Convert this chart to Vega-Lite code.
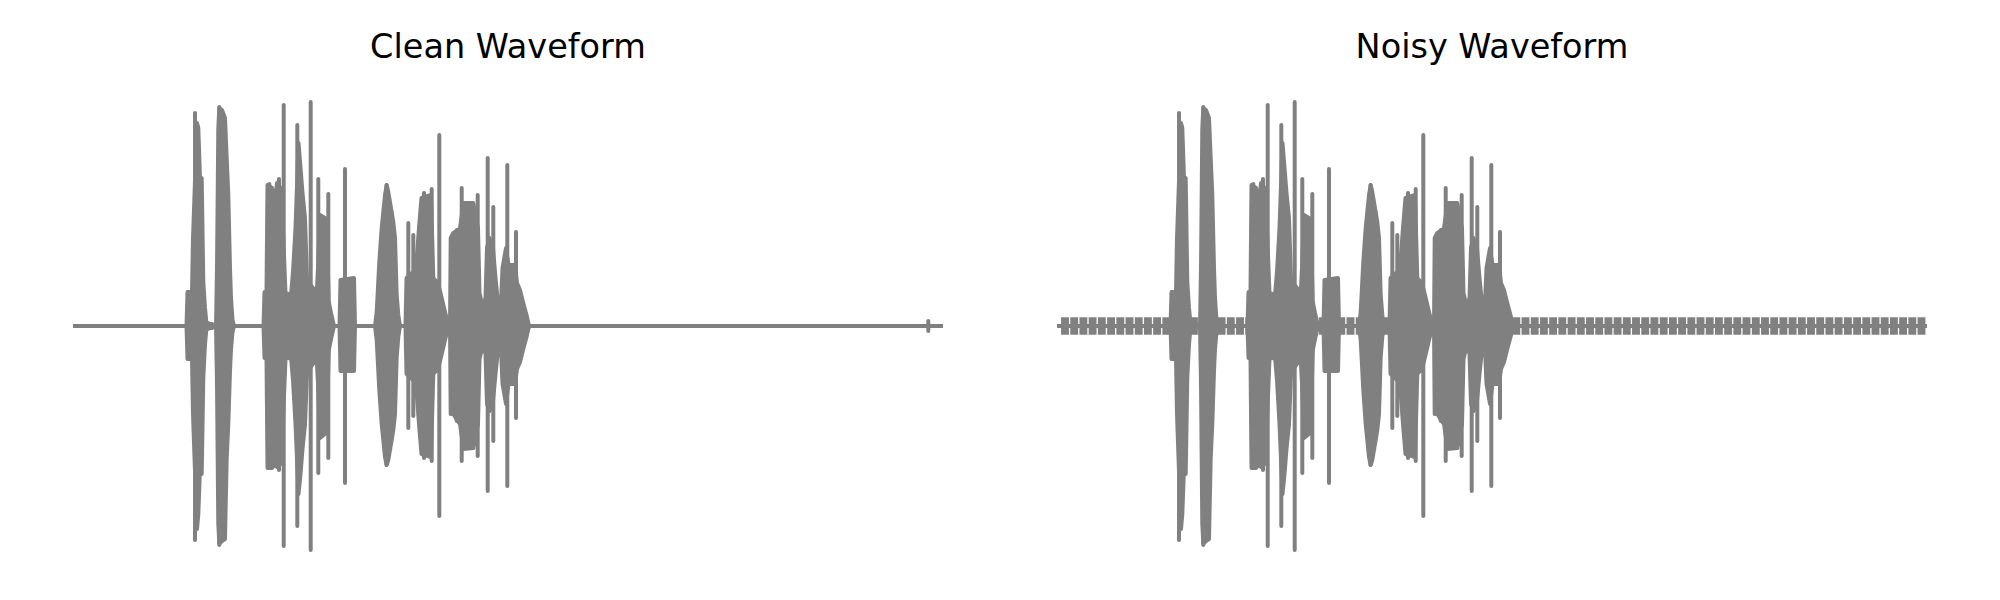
{
  "$schema": "https://vega.github.io/schema/vega-lite/v6.json",
  "background": "white",
  "padding": {"left": 71, "top": 30, "right": 0, "bottom": 0},
  "spacing": 110,
  "config": {"view": {"stroke": null}},
  "datasets": {
    "base": [{"t0": 0, "t1": 8.7, "v": 0}],
    "env": [
      {"t": 1.135, "hi": 0, "lo": 0},
      {"t": 1.145, "hi": 0.136, "lo": -0.132},
      {"t": 1.19, "hi": 0.136, "lo": -0.132},
      {"t": 1.2, "hi": 0.352, "lo": -0.352},
      {"t": 1.24, "hi": 0.812, "lo": -0.812},
      {"t": 1.253, "hi": 0.792, "lo": -0.752},
      {"t": 1.27, "hi": 0.592, "lo": -0.572},
      {"t": 1.287, "hi": 0.592, "lo": -0.592},
      {"t": 1.303, "hi": 0.176, "lo": -0.208},
      {"t": 1.32, "hi": 0.072, "lo": -0.072},
      {"t": 1.335, "hi": 0.008, "lo": -0.008},
      {"t": 1.35, "hi": 0.012, "lo": -0.012},
      {"t": 1.37, "hi": 0.008, "lo": -0.008},
      {"t": 1.39, "hi": 0.008, "lo": -0.008},
      {"t": 1.41, "hi": 0, "lo": 0},
      {"t": 1.43, "hi": 0, "lo": 0},
      {"t": 1.44, "hi": 0.232, "lo": -0.232},
      {"t": 1.453, "hi": 0.792, "lo": -0.792},
      {"t": 1.463, "hi": 0.872, "lo": -0.872},
      {"t": 1.49, "hi": 0.864, "lo": -0.86},
      {"t": 1.52, "hi": 0.832, "lo": -0.852},
      {"t": 1.537, "hi": 0.672, "lo": -0.528},
      {"t": 1.553, "hi": 0.524, "lo": -0.392},
      {"t": 1.57, "hi": 0.232, "lo": -0.18},
      {"t": 1.58, "hi": 0.112, "lo": -0.092},
      {"t": 1.595, "hi": 0.024, "lo": -0.024},
      {"t": 1.61, "hi": 0, "lo": 0},
      {"t": 1.905, "hi": 0, "lo": 0},
      {"t": 1.915, "hi": 0.136, "lo": -0.128},
      {"t": 1.935, "hi": 0.136, "lo": -0.128},
      {"t": 1.945, "hi": 0.564, "lo": -0.568},
      {"t": 1.99, "hi": 0.552, "lo": -0.568},
      {"t": 2.02, "hi": 0.496, "lo": -0.552},
      {"t": 2.04, "hi": 0.572, "lo": -0.564},
      {"t": 2.075, "hi": 0.552, "lo": -0.552},
      {"t": 2.095, "hi": 0.432, "lo": -0.432},
      {"t": 2.125, "hi": 0.132, "lo": -0.132},
      {"t": 2.18, "hi": 0.124, "lo": -0.124},
      {"t": 2.2, "hi": 0.216, "lo": -0.216},
      {"t": 2.225, "hi": 0.392, "lo": -0.392},
      {"t": 2.255, "hi": 0.732, "lo": -0.672},
      {"t": 2.275, "hi": 0.632, "lo": -0.592},
      {"t": 2.295, "hi": 0.532, "lo": -0.492},
      {"t": 2.32, "hi": 0.432, "lo": -0.392},
      {"t": 2.34, "hi": 0.192, "lo": -0.192},
      {"t": 2.36, "hi": 0.172, "lo": -0.172},
      {"t": 2.4, "hi": 0.152, "lo": -0.152},
      {"t": 2.435, "hi": 0.112, "lo": -0.112},
      {"t": 2.45, "hi": 0.232, "lo": -0.232},
      {"t": 2.47, "hi": 0.444, "lo": -0.448},
      {"t": 2.52, "hi": 0.432, "lo": -0.432},
      {"t": 2.54, "hi": 0.352, "lo": -0.352},
      {"t": 2.558, "hi": 0.096, "lo": -0.096},
      {"t": 2.58, "hi": 0.052, "lo": -0.052},
      {"t": 2.61, "hi": 0, "lo": 0},
      {"t": 2.665, "hi": 0, "lo": 0},
      {"t": 2.675, "hi": 0.184, "lo": -0.18},
      {"t": 2.81, "hi": 0.192, "lo": -0.18},
      {"t": 2.82, "hi": 0, "lo": 0},
      {"t": 3.02, "hi": 0, "lo": 0},
      {"t": 3.037, "hi": 0.056, "lo": -0.056},
      {"t": 3.063, "hi": 0.256, "lo": -0.256},
      {"t": 3.087, "hi": 0.392, "lo": -0.392},
      {"t": 3.103, "hi": 0.456, "lo": -0.456},
      {"t": 3.12, "hi": 0.524, "lo": -0.524},
      {"t": 3.137, "hi": 0.564, "lo": -0.556},
      {"t": 3.153, "hi": 0.536, "lo": -0.536},
      {"t": 3.187, "hi": 0.456, "lo": -0.456},
      {"t": 3.203, "hi": 0.416, "lo": -0.416},
      {"t": 3.22, "hi": 0.352, "lo": -0.352},
      {"t": 3.237, "hi": 0.124, "lo": -0.124},
      {"t": 3.253, "hi": 0.044, "lo": -0.044},
      {"t": 3.27, "hi": 0, "lo": 0},
      {"t": 3.325, "hi": 0, "lo": 0},
      {"t": 3.335, "hi": 0.192, "lo": -0.192},
      {"t": 3.39, "hi": 0.212, "lo": -0.212},
      {"t": 3.43, "hi": 0.232, "lo": -0.232},
      {"t": 3.46, "hi": 0.392, "lo": -0.392},
      {"t": 3.485, "hi": 0.512, "lo": -0.512},
      {"t": 3.58, "hi": 0.524, "lo": -0.524},
      {"t": 3.603, "hi": 0.192, "lo": -0.192},
      {"t": 3.65, "hi": 0.172, "lo": -0.172},
      {"t": 3.68, "hi": 0.124, "lo": -0.124},
      {"t": 3.72, "hi": 0.056, "lo": -0.056},
      {"t": 3.75, "hi": 0.008, "lo": -0.008},
      {"t": 3.77, "hi": 0, "lo": 0},
      {"t": 3.777, "hi": 0.352, "lo": -0.352},
      {"t": 3.803, "hi": 0.372, "lo": -0.352},
      {"t": 3.853, "hi": 0.384, "lo": -0.384},
      {"t": 3.87, "hi": 0.392, "lo": -0.392},
      {"t": 3.905, "hi": 0.492, "lo": -0.492},
      {"t": 4.003, "hi": 0.492, "lo": -0.488},
      {"t": 4.03, "hi": 0.432, "lo": -0.432},
      {"t": 4.05, "hi": 0.392, "lo": -0.392},
      {"t": 4.065, "hi": 0.132, "lo": -0.132},
      {"t": 4.1, "hi": 0.072, "lo": -0.072},
      {"t": 4.125, "hi": 0.112, "lo": -0.112},
      {"t": 4.14, "hi": 0.312, "lo": -0.312},
      {"t": 4.165, "hi": 0.352, "lo": -0.34},
      {"t": 4.2, "hi": 0.312, "lo": -0.3},
      {"t": 4.225, "hi": 0.192, "lo": -0.192},
      {"t": 4.245, "hi": 0.112, "lo": -0.112},
      {"t": 4.28, "hi": 0.092, "lo": -0.092},
      {"t": 4.295, "hi": 0.232, "lo": -0.232},
      {"t": 4.33, "hi": 0.312, "lo": -0.312},
      {"t": 4.355, "hi": 0.244, "lo": -0.232},
      {"t": 4.42, "hi": 0.244, "lo": -0.232},
      {"t": 4.44, "hi": 0.172, "lo": -0.172},
      {"t": 4.47, "hi": 0.144, "lo": -0.144},
      {"t": 4.5, "hi": 0.096, "lo": -0.096},
      {"t": 4.535, "hi": 0.044, "lo": -0.044},
      {"t": 4.555, "hi": 0.008, "lo": -0.008},
      {"t": 4.57, "hi": 0, "lo": 0}
    ],
    "spikes": [
      {"t": 1.22, "hi": 0.852, "lo": -0.856},
      {"t": 1.463, "hi": 0.876, "lo": -0.876},
      {"t": 1.963, "hi": 0.568, "lo": -0.568},
      {"t": 2.06, "hi": 0.588, "lo": -0.576},
      {"t": 2.107, "hi": 0.884, "lo": -0.88},
      {"t": 2.243, "hi": 0.804, "lo": -0.8},
      {"t": 2.377, "hi": 0.896, "lo": -0.896},
      {"t": 2.453, "hi": 0.588, "lo": -0.588},
      {"t": 2.553, "hi": 0.528, "lo": -0.528},
      {"t": 2.72, "hi": 0.628, "lo": -0.628},
      {"t": 3.135, "hi": 0.564, "lo": -0.556},
      {"t": 3.353, "hi": 0.412, "lo": -0.408},
      {"t": 3.403, "hi": 0.364, "lo": -0.36},
      {"t": 3.51, "hi": 0.532, "lo": -0.528},
      {"t": 3.587, "hi": 0.548, "lo": -0.54},
      {"t": 3.663, "hi": 0.764, "lo": -0.76},
      {"t": 3.837, "hi": 0.384, "lo": -0.38},
      {"t": 3.887, "hi": 0.552, "lo": -0.54},
      {"t": 4.047, "hi": 0.524, "lo": -0.52},
      {"t": 4.147, "hi": 0.672, "lo": -0.66},
      {"t": 4.203, "hi": 0.476, "lo": -0.46},
      {"t": 4.343, "hi": 0.644, "lo": -0.64},
      {"t": 4.43, "hi": 0.376, "lo": -0.368},
      {"t": 8.553, "hi": 0.02, "lo": -0.02}
    ],
    "noise": [
      {"t": 0.080, "hi": 0.035, "lo": -0.035},
      {"t": 0.172, "hi": 0.035, "lo": -0.035},
      {"t": 0.264, "hi": 0.035, "lo": -0.035},
      {"t": 0.356, "hi": 0.035, "lo": -0.035},
      {"t": 0.448, "hi": 0.035, "lo": -0.035},
      {"t": 0.541, "hi": 0.035, "lo": -0.035},
      {"t": 0.633, "hi": 0.035, "lo": -0.035},
      {"t": 0.725, "hi": 0.035, "lo": -0.035},
      {"t": 0.817, "hi": 0.035, "lo": -0.035},
      {"t": 0.909, "hi": 0.035, "lo": -0.035},
      {"t": 1.001, "hi": 0.035, "lo": -0.035},
      {"t": 1.093, "hi": 0.035, "lo": -0.035},
      {"t": 1.185, "hi": 0.035, "lo": -0.035},
      {"t": 1.277, "hi": 0.035, "lo": -0.035},
      {"t": 1.369, "hi": 0.035, "lo": -0.035},
      {"t": 1.462, "hi": 0.035, "lo": -0.035},
      {"t": 1.554, "hi": 0.035, "lo": -0.035},
      {"t": 1.646, "hi": 0.035, "lo": -0.035},
      {"t": 1.738, "hi": 0.035, "lo": -0.035},
      {"t": 1.830, "hi": 0.035, "lo": -0.035},
      {"t": 1.922, "hi": 0.035, "lo": -0.035},
      {"t": 2.014, "hi": 0.035, "lo": -0.035},
      {"t": 2.106, "hi": 0.035, "lo": -0.035},
      {"t": 2.198, "hi": 0.035, "lo": -0.035},
      {"t": 2.290, "hi": 0.035, "lo": -0.035},
      {"t": 2.383, "hi": 0.035, "lo": -0.035},
      {"t": 2.475, "hi": 0.035, "lo": -0.035},
      {"t": 2.567, "hi": 0.035, "lo": -0.035},
      {"t": 2.659, "hi": 0.035, "lo": -0.035},
      {"t": 2.751, "hi": 0.035, "lo": -0.035},
      {"t": 2.843, "hi": 0.035, "lo": -0.035},
      {"t": 2.935, "hi": 0.035, "lo": -0.035},
      {"t": 3.027, "hi": 0.035, "lo": -0.035},
      {"t": 3.119, "hi": 0.035, "lo": -0.035},
      {"t": 3.211, "hi": 0.035, "lo": -0.035},
      {"t": 3.304, "hi": 0.035, "lo": -0.035},
      {"t": 3.396, "hi": 0.035, "lo": -0.035},
      {"t": 3.488, "hi": 0.035, "lo": -0.035},
      {"t": 3.580, "hi": 0.035, "lo": -0.035},
      {"t": 3.672, "hi": 0.035, "lo": -0.035},
      {"t": 3.764, "hi": 0.035, "lo": -0.035},
      {"t": 3.856, "hi": 0.035, "lo": -0.035},
      {"t": 3.948, "hi": 0.035, "lo": -0.035},
      {"t": 4.040, "hi": 0.035, "lo": -0.035},
      {"t": 4.132, "hi": 0.035, "lo": -0.035},
      {"t": 4.225, "hi": 0.035, "lo": -0.035},
      {"t": 4.317, "hi": 0.035, "lo": -0.035},
      {"t": 4.409, "hi": 0.035, "lo": -0.035},
      {"t": 4.501, "hi": 0.035, "lo": -0.035},
      {"t": 4.593, "hi": 0.035, "lo": -0.035},
      {"t": 4.685, "hi": 0.035, "lo": -0.035},
      {"t": 4.777, "hi": 0.035, "lo": -0.035},
      {"t": 4.869, "hi": 0.035, "lo": -0.035},
      {"t": 4.961, "hi": 0.035, "lo": -0.035},
      {"t": 5.053, "hi": 0.035, "lo": -0.035},
      {"t": 5.146, "hi": 0.035, "lo": -0.035},
      {"t": 5.238, "hi": 0.035, "lo": -0.035},
      {"t": 5.330, "hi": 0.035, "lo": -0.035},
      {"t": 5.422, "hi": 0.035, "lo": -0.035},
      {"t": 5.514, "hi": 0.035, "lo": -0.035},
      {"t": 5.606, "hi": 0.035, "lo": -0.035},
      {"t": 5.698, "hi": 0.035, "lo": -0.035},
      {"t": 5.790, "hi": 0.035, "lo": -0.035},
      {"t": 5.882, "hi": 0.035, "lo": -0.035},
      {"t": 5.974, "hi": 0.035, "lo": -0.035},
      {"t": 6.067, "hi": 0.035, "lo": -0.035},
      {"t": 6.159, "hi": 0.035, "lo": -0.035},
      {"t": 6.251, "hi": 0.035, "lo": -0.035},
      {"t": 6.343, "hi": 0.035, "lo": -0.035},
      {"t": 6.435, "hi": 0.035, "lo": -0.035},
      {"t": 6.527, "hi": 0.035, "lo": -0.035},
      {"t": 6.619, "hi": 0.035, "lo": -0.035},
      {"t": 6.711, "hi": 0.035, "lo": -0.035},
      {"t": 6.803, "hi": 0.035, "lo": -0.035},
      {"t": 6.895, "hi": 0.035, "lo": -0.035},
      {"t": 6.988, "hi": 0.035, "lo": -0.035},
      {"t": 7.080, "hi": 0.035, "lo": -0.035},
      {"t": 7.172, "hi": 0.035, "lo": -0.035},
      {"t": 7.264, "hi": 0.035, "lo": -0.035},
      {"t": 7.356, "hi": 0.035, "lo": -0.035},
      {"t": 7.448, "hi": 0.035, "lo": -0.035},
      {"t": 7.540, "hi": 0.035, "lo": -0.035},
      {"t": 7.632, "hi": 0.035, "lo": -0.035},
      {"t": 7.724, "hi": 0.035, "lo": -0.035},
      {"t": 7.816, "hi": 0.035, "lo": -0.035},
      {"t": 7.909, "hi": 0.035, "lo": -0.035},
      {"t": 8.001, "hi": 0.035, "lo": -0.035},
      {"t": 8.093, "hi": 0.035, "lo": -0.035},
      {"t": 8.185, "hi": 0.035, "lo": -0.035},
      {"t": 8.277, "hi": 0.035, "lo": -0.035},
      {"t": 8.369, "hi": 0.035, "lo": -0.035},
      {"t": 8.461, "hi": 0.035, "lo": -0.035},
      {"t": 8.553, "hi": 0.035, "lo": -0.035},
      {"t": 8.645, "hi": 0.035, "lo": -0.035}
    ]
  },
  "hconcat": [
    {
      "title": {"text": "Clean Waveform", "fontSize": 33.5, "font": "DejaVu Sans", "fontWeight": "normal", "color": "#000000", "anchor": "middle", "baseline": "alphabetic", "offset": -15},
      "width": 870,
      "height": 500,
      "layer": [
        {
          "data": {"name": "base"},
          "mark": {"type": "rule", "color": "#808080", "strokeWidth": 4},
          "encoding": {
            "x": {"field": "t0", "type": "quantitative", "scale": {"domain": [0, 8.7], "nice": false, "zero": false}, "axis": null},
            "x2": {"field": "t1"},
            "y": {"field": "v", "type": "quantitative", "scale": {"domain": [-1, 1], "nice": false}, "axis": null}
          }
        },
        {
          "data": {"name": "env"},
          "mark": {"type": "area", "color": "#808080", "stroke": "#808080", "strokeWidth": 4, "strokeJoin": "round", "opacity": 1},
          "encoding": {
            "x": {"field": "t", "type": "quantitative", "scale": {"domain": [0, 8.7], "nice": false, "zero": false}, "axis": null},
            "y": {"field": "hi", "type": "quantitative", "scale": {"domain": [-1, 1], "nice": false}, "axis": null},
            "y2": {"field": "lo"}
          }
        },
        {
          "data": {"name": "spikes"},
          "mark": {"type": "rule", "color": "#808080", "strokeWidth": 4, "strokeCap": "round"},
          "encoding": {
            "x": {"field": "t", "type": "quantitative", "scale": {"domain": [0, 8.7], "nice": false, "zero": false}, "axis": null},
            "y": {"field": "hi", "type": "quantitative", "scale": {"domain": [-1, 1], "nice": false}, "axis": null},
            "y2": {"field": "lo"}
          }
        }
      ]
    },
    {
      "title": {"text": "Noisy Waveform", "fontSize": 33.5, "font": "DejaVu Sans", "fontWeight": "normal", "color": "#000000", "anchor": "middle", "baseline": "alphabetic", "offset": -15},
      "width": 870,
      "height": 500,
      "layer": [
        {
          "data": {"name": "base"},
          "mark": {"type": "rule", "color": "#808080", "strokeWidth": 4},
          "encoding": {
            "x": {"field": "t0", "type": "quantitative", "scale": {"domain": [0, 8.7], "nice": false, "zero": false}, "axis": null},
            "x2": {"field": "t1"},
            "y": {"field": "v", "type": "quantitative", "scale": {"domain": [-1, 1], "nice": false}, "axis": null}
          }
        },
        {
          "data": {"name": "noise"},
          "mark": {"type": "rule", "color": "#808080", "strokeWidth": 7.9, "strokeCap": "butt"},
          "encoding": {
            "x": {"field": "t", "type": "quantitative", "scale": {"domain": [0, 8.7], "nice": false, "zero": false}, "axis": null},
            "y": {"field": "hi", "type": "quantitative", "scale": {"domain": [-1, 1], "nice": false}, "axis": null},
            "y2": {"field": "lo"}
          }
        },
        {
          "data": {"name": "env"},
          "mark": {"type": "area", "color": "#808080", "stroke": "#808080", "strokeWidth": 4, "strokeJoin": "round", "opacity": 1},
          "encoding": {
            "x": {"field": "t", "type": "quantitative", "scale": {"domain": [0, 8.7], "nice": false, "zero": false}, "axis": null},
            "y": {"field": "hi", "type": "quantitative", "scale": {"domain": [-1, 1], "nice": false}, "axis": null},
            "y2": {"field": "lo"}
          }
        },
        {
          "data": {"name": "spikes"},
          "mark": {"type": "rule", "color": "#808080", "strokeWidth": 4, "strokeCap": "round"},
          "encoding": {
            "x": {"field": "t", "type": "quantitative", "scale": {"domain": [0, 8.7], "nice": false, "zero": false}, "axis": null},
            "y": {"field": "hi", "type": "quantitative", "scale": {"domain": [-1, 1], "nice": false}, "axis": null},
            "y2": {"field": "lo"}
          }
        }
      ]
    }
  ]
}
